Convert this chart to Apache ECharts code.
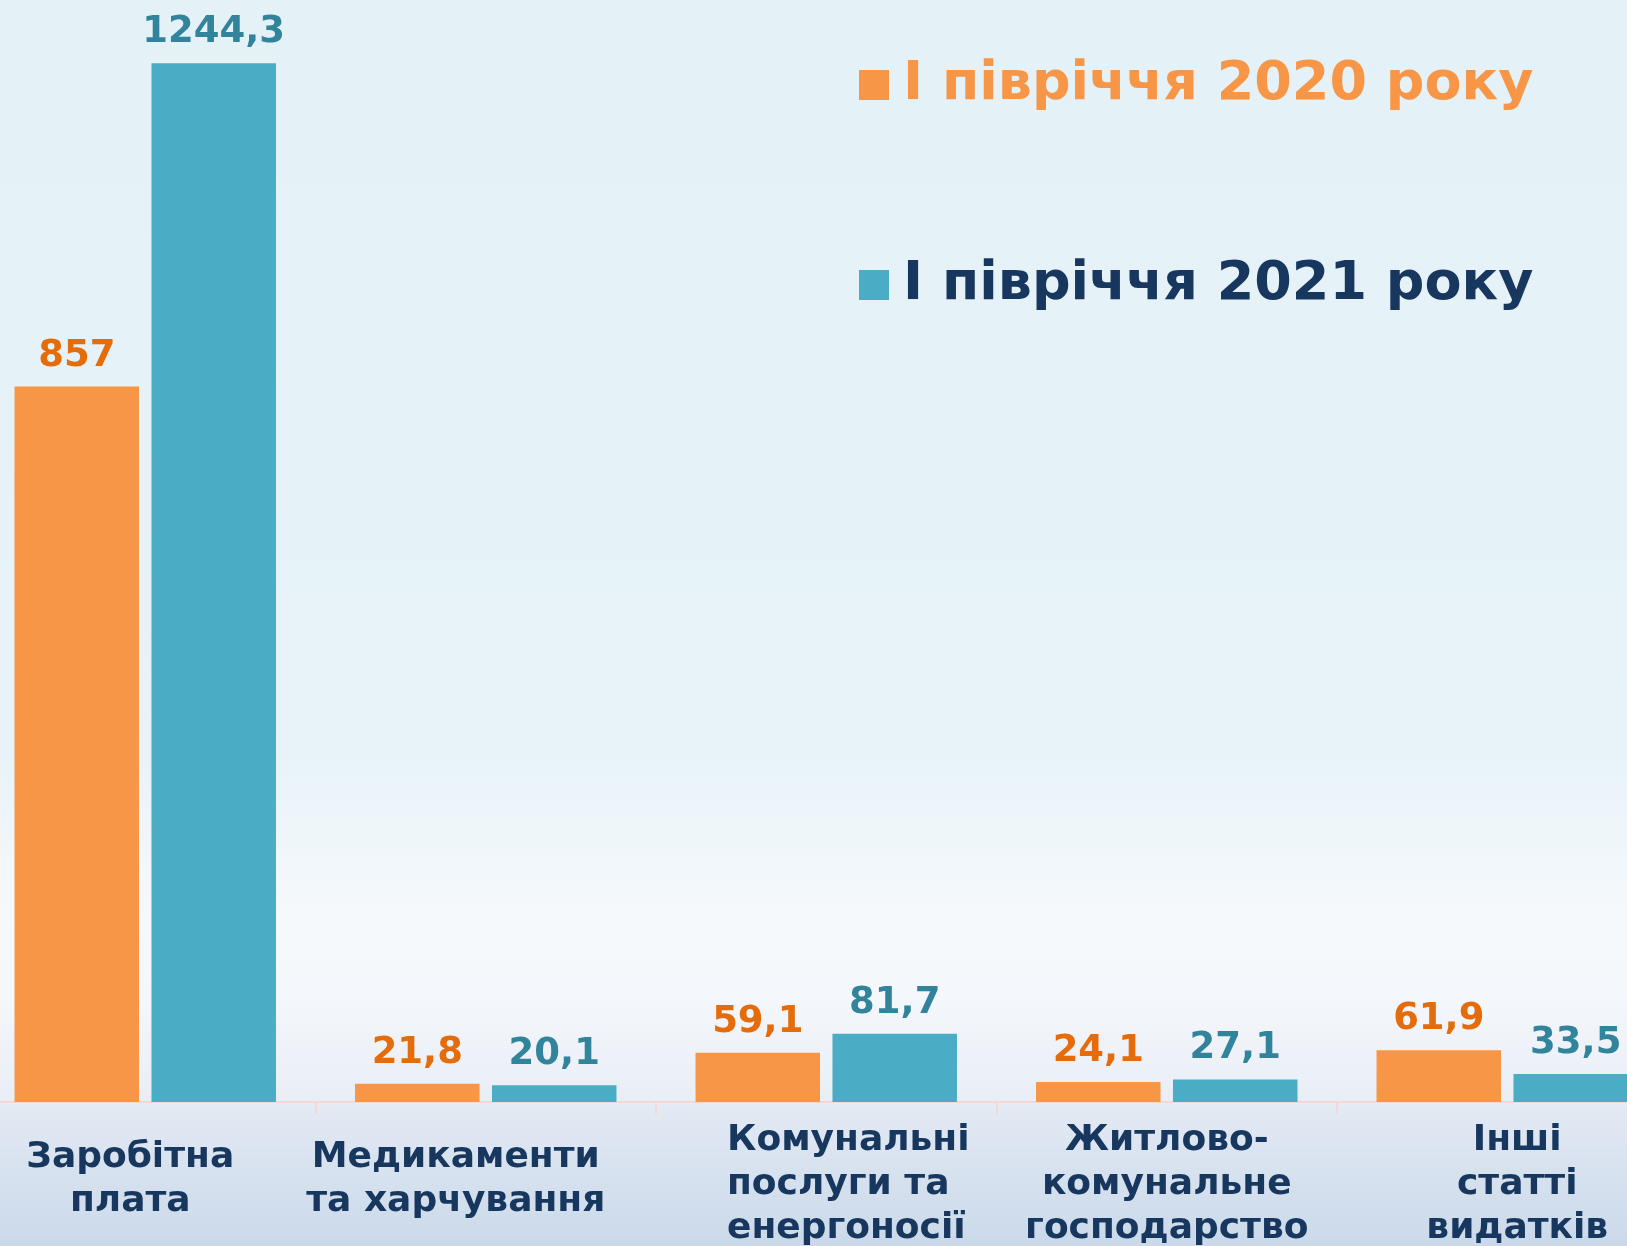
<!DOCTYPE html>
<html>
<head>
    <meta charset="UTF-8">
    <script src="https://cdn.jsdelivr.net/npm/echarts@6/dist/echarts.min.js"></script>
    <title>Видатки</title>
    <style>
        html, body {margin: 0; padding: 0; overflow: hidden;}
        #chart {width: 1627px; height: 1246px;}
    </style>
</head>
<body>
<div id="chart"></div>
<script>
    var categories = [
        'Заробітна\nплата',
        'Медикаменти\nта харчування',
        'Комунальні\nпослуги та\nенергоносії',
        'Житлово-\nкомунальне\nгосподарство',
        'Інші\nстатті\nвидатків'
    ];
    var seriesNames = ['І півріччя 2020 року', 'І півріччя 2021 року'];
    var values2020 = [857, 21.8, 59.1, 24.1, 61.9];
    var values2021 = [1244.3, 20.1, 81.7, 27.1, 33.5];

    var font = 'DejaVu Sans';
    var navy = '#17375e';

    // caption padding [top, right, bottom, left]: small shifts as on the slide
    var captionPadding = [
        [17, 30, 0, 0],
        [17, 60, 0, 0],
        [0, 0, 0, 44],
        [0, 0, 0, 0],
        [0, 0, 0, 20]
    ];

    function fmt(p) {
        return String(p.value).replace('.', ',');
    }

    var axisData = categories.map(function (c, i) {
        var item = {value: c, textStyle: {padding: captionPadding[i]}};
        if (i === 2) {
            item.textStyle.rich = {l: {align: 'left', fontSize: 36, fontWeight: 'bold', fontFamily: font, color: navy, lineHeight: 44}};
        }
        return item;
    });

    var chart = echarts.init(document.getElementById('chart'));
    chart.setOption({
        animation: false,
        backgroundColor: new echarts.graphic.LinearGradient(0, 0, 0, 1, [
            {offset: 0, color: '#e4f1f7'},
            {offset: 0.6, color: '#e7f3f8'},
            {offset: 0.74, color: '#f6f9fc'},
            {offset: 0.8, color: '#f4f7fb'},
            {offset: 0.884, color: '#e9eef6'},
            {offset: 0.89, color: '#e2e9f3'},
            {offset: 1, color: '#cad9ea'}
        ]),
        legend: {
            orient: 'vertical',
            left: 859,
            top: 58,
            padding: 0,
            icon: 'rect',
            itemWidth: 30,
            itemHeight: 30,
            itemGap: 146,
            selectedMode: false,
            textStyle: {fontFamily: font, fontWeight: 'bold', fontSize: 54, padding: [0, 0, 0, 9]},
            data: [
                {name: seriesNames[0], textStyle: {color: '#f79646'}},
                {name: seriesNames[1], textStyle: {color: navy}}
            ]
        },
        grid: {
            left: -25,
            width: 1702.5,
            top: 0,
            bottom: 144,
            outerBoundsMode: 'none'
        },
        xAxis: {
            type: 'category',
            data: axisData,
            axisLine: {lineStyle: {color: '#f3d9d4', width: 2}},
            axisTick: {show: true, length: 12, lineStyle: {color: '#f3d9d4', width: 2}},
            axisLabel: {
                interval: 0,
                margin: 17,
                color: navy,
                fontFamily: font,
                fontWeight: 'bold',
                fontSize: 36,
                lineHeight: 44,
                formatter: function (v, i) {
                    if (i === 2) {
                        return v.split('\n').map(function (s) { return '{l|' + s + '}'; }).join('\n');
                    }
                    return v;
                }
            }
        },
        yAxis: {
            type: 'value',
            min: 0,
            max: 1320,
            show: false,
            splitLine: {show: false}
        },
        series: [
            {
                name: seriesNames[0],
                type: 'bar',
                barWidth: 124.5,
                barGap: '10%',
                data: values2020,
                itemStyle: {color: '#f79646'},
                emphasis: {disabled: true},
                label: {
                    show: true,
                    position: 'top',
                    distance: 12,
                    color: '#e46c0a',
                    fontFamily: font,
                    fontWeight: 'bold',
                    fontSize: 37,
                    formatter: fmt
                }
            },
            {
                name: seriesNames[1],
                type: 'bar',
                barWidth: 124.5,
                barGap: '10%',
                data: values2021,
                itemStyle: {color: '#4bacc6'},
                emphasis: {disabled: true},
                label: {
                    show: true,
                    position: 'top',
                    distance: 12,
                    color: '#31849b',
                    fontFamily: font,
                    fontWeight: 'bold',
                    fontSize: 37,
                    formatter: fmt
                }
            }
        ]
    });
</script>
</body>
</html>
